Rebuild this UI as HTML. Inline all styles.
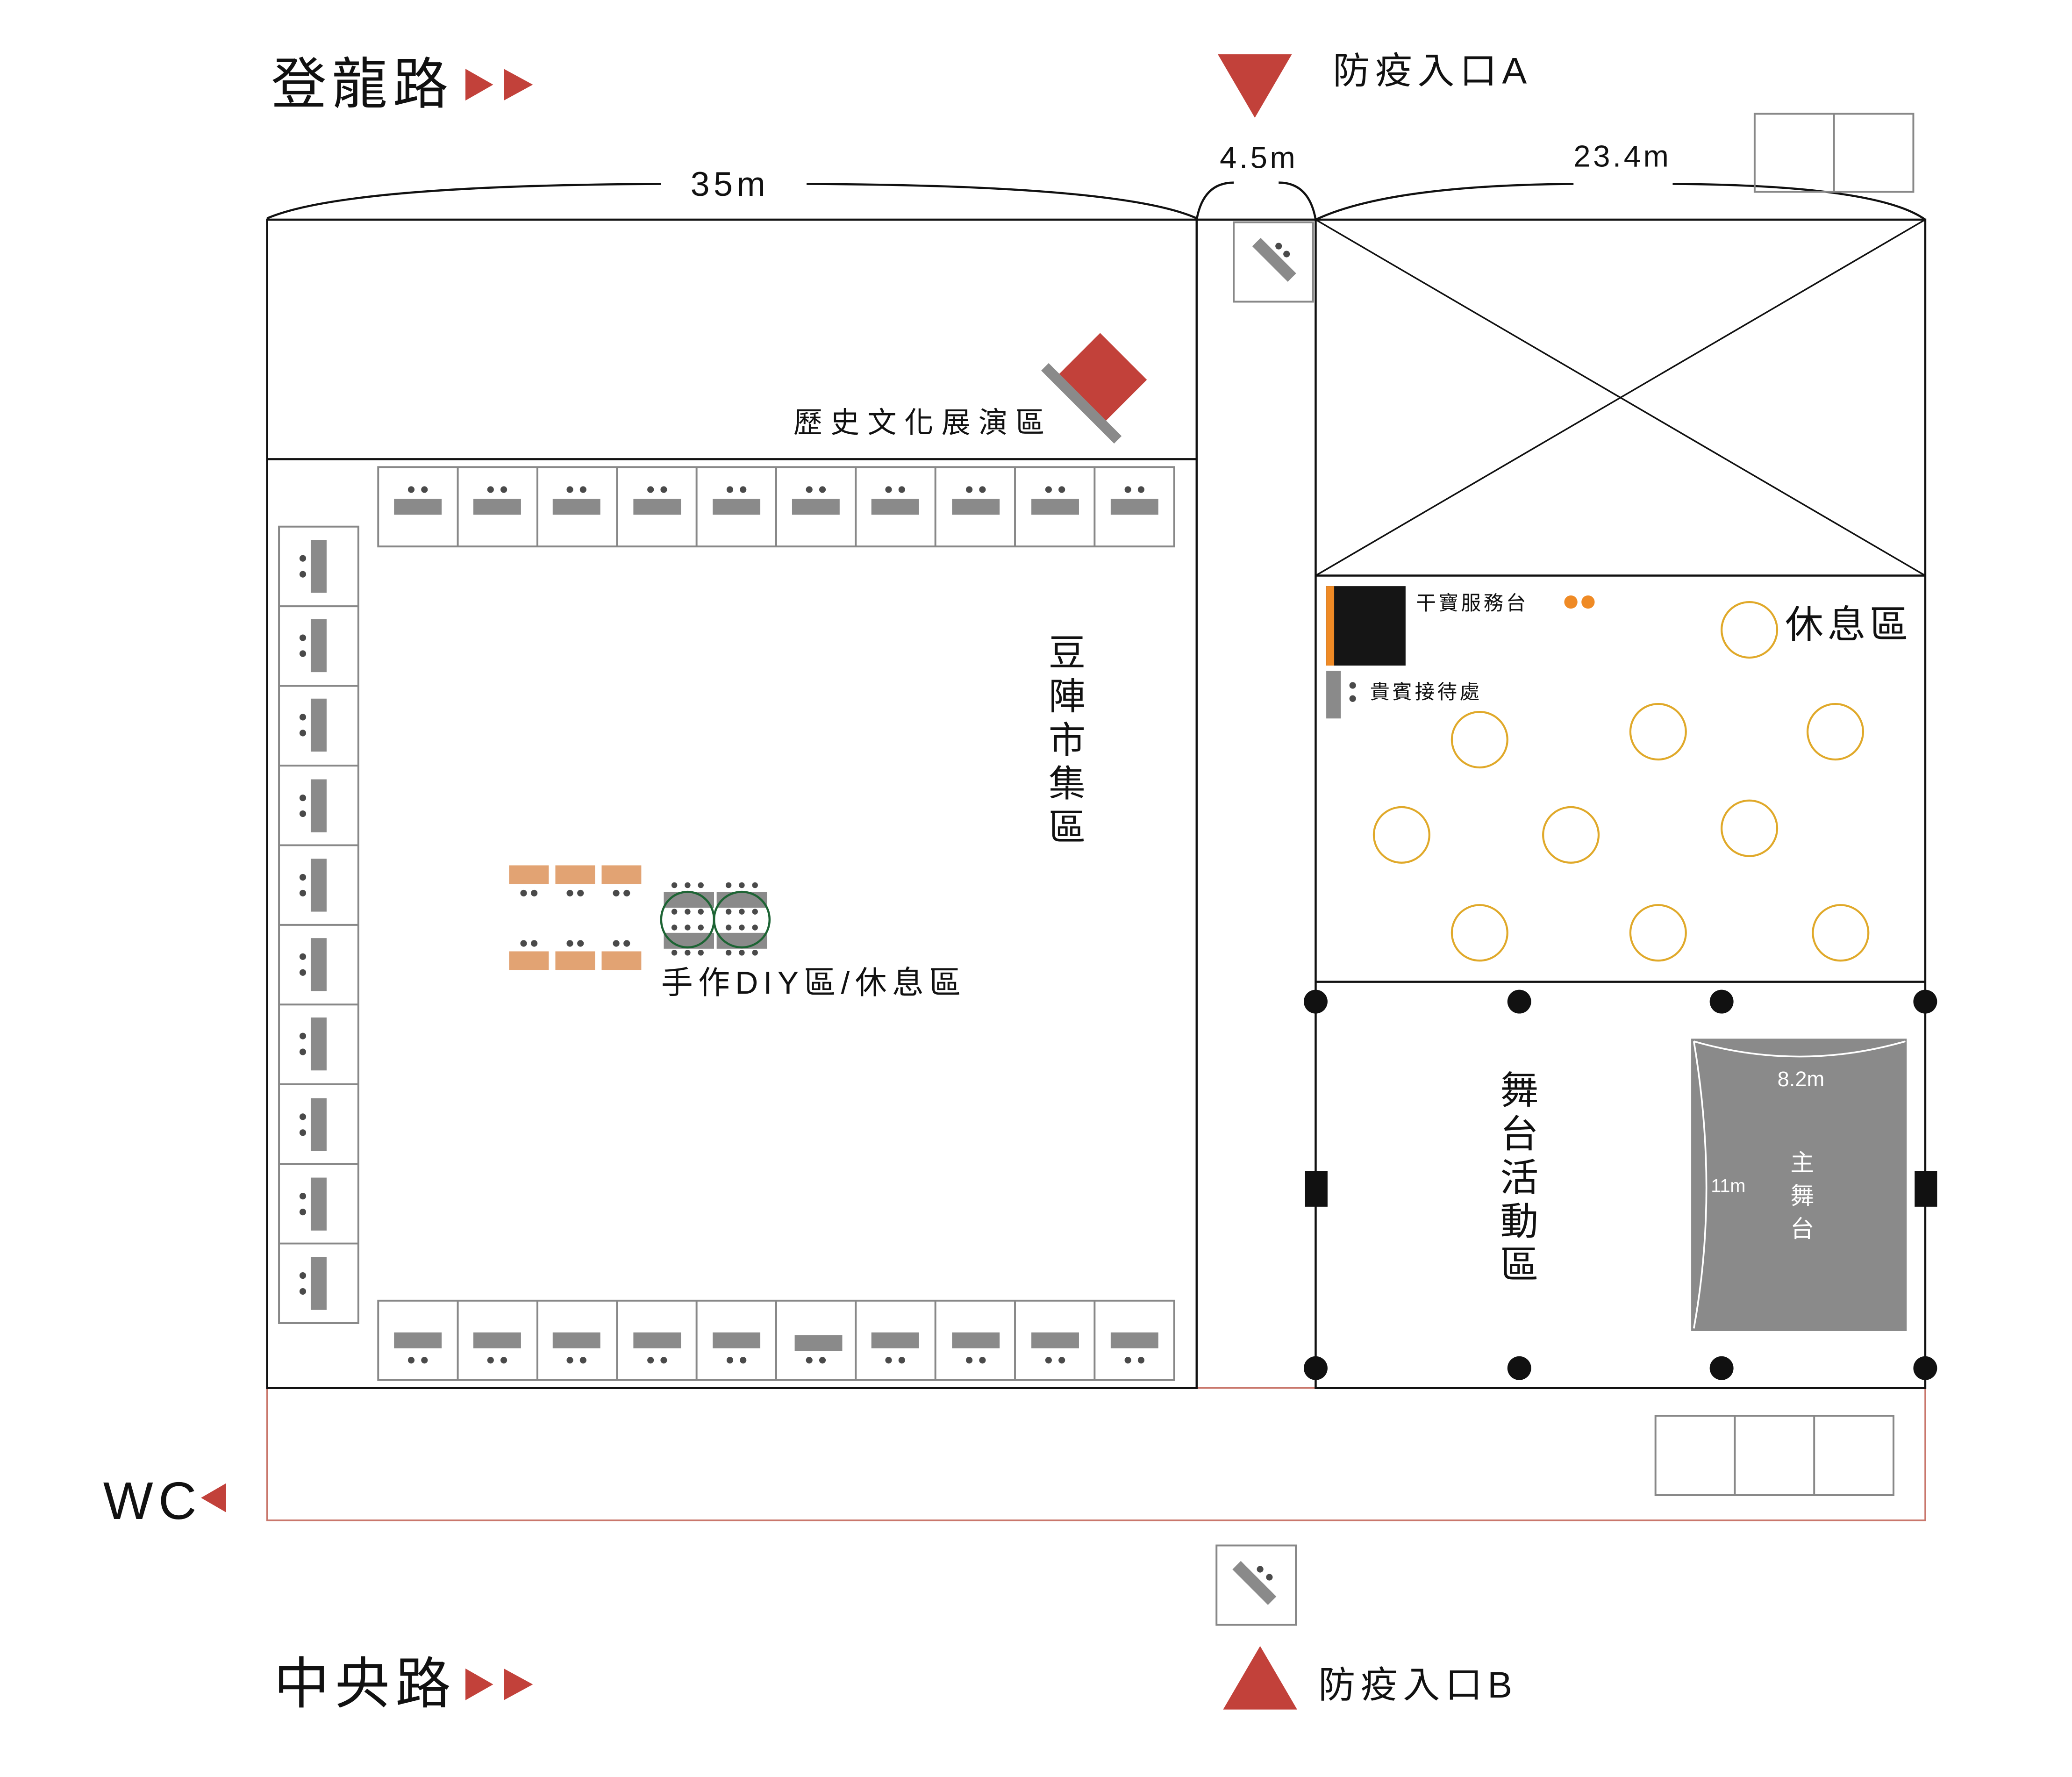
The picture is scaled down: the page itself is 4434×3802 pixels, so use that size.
<!DOCTYPE html>
<html><head><meta charset="utf-8"><style>html,body{margin:0;padding:0;background:#fff}svg{display:block}text{font-family:"Liberation Sans","Noto Sans CJK TC",sans-serif;fill:#111}</style></head><body>
<svg width="4434" height="3802" viewBox="0 0 1567 1343" preserveAspectRatio="none" xmlns="http://www.w3.org/2000/svg">
<rect width="1567" height="1343" fill="#fff"/>
<rect x="202" y="1049" width="1254" height="100" fill="none" stroke="#c9776c" stroke-width="1.2"/>
<g fill="none" stroke="#111" stroke-width="1.6">
<rect x="202" y="166" width="703" height="883"/>
<line x1="202" y1="347" x2="905" y2="347"/>
<rect x="995" y="166" width="461" height="883"/>
<line x1="905" y1="166" x2="995" y2="166"/>
<line x1="995" y1="435" x2="1456" y2="435"/>
<line x1="995" y1="742" x2="1456" y2="742"/>
<line x1="995" y1="166" x2="1456" y2="435" stroke-width="1.2"/>
<line x1="1456" y1="166" x2="995" y2="435" stroke-width="1.2"/>
<path d="M202,165 Q260,140 500,139"/><path d="M610,139 Q850,140 905,165"/>
<path d="M905,166 Q910,138 933,138"/><path d="M967,138 Q990,138 995,166"/>
<path d="M995,166 Q1050,140 1190,139"/><path d="M1265,139 Q1420,140 1456,166"/>
</g>
<text x="552" y="148" font-size="26" text-anchor="middle" letter-spacing="3">35m</text>
<text x="952" y="127" font-size="23" text-anchor="middle" letter-spacing="2">4.5m</text>
<text x="1227" y="126" font-size="23" text-anchor="middle" letter-spacing="2">23.4m</text>
<g fill="none" stroke="#888" stroke-width="1.4">
<rect x="1327" y="86" width="120" height="59"/><line x1="1387" y1="86" x2="1387" y2="145"/>
<rect x="1252" y="1070" width="180" height="60"/><line x1="1312" y1="1070" x2="1312" y2="1130"/><line x1="1372" y1="1070" x2="1372" y2="1130"/>
<rect x="933" y="168" width="60" height="60"/>
<rect x="920" y="1168" width="60" height="60"/>
</g>
<g fill="#8a8a8a"><rect x="945" y="192" width="38" height="9" transform="rotate(45 964 196)"/><rect x="930" y="1192" width="38" height="9" transform="rotate(45 949 1196)"/></g>
<g fill="#4a4a4a"><circle cx="967" cy="186" r="2.5"/><circle cx="973" cy="192" r="2.5"/><circle cx="953" cy="1186" r="2.5"/><circle cx="960" cy="1192" r="2.5"/></g>
<rect x="807" y="262" width="50" height="50" fill="#c2413a" transform="rotate(45 832 287)"/>
<rect x="780" y="298" width="78" height="8" fill="#8a8a8a" transform="rotate(45 815 302)"/>
<text x="600" y="327" font-size="22" letter-spacing="6">歷史文化展演區</text>
<g fill="none" stroke="#888" stroke-width="1.4">
<rect x="286" y="353" width="602" height="60"/><rect x="286" y="983" width="602" height="60"/><rect x="211" y="398" width="60" height="602"/>
<line x1="346.2" y1="353" x2="346.2" y2="413"/><line x1="406.4" y1="353" x2="406.4" y2="413"/><line x1="466.6" y1="353" x2="466.6" y2="413"/><line x1="526.8" y1="353" x2="526.8" y2="413"/><line x1="587" y1="353" x2="587" y2="413"/><line x1="647.2" y1="353" x2="647.2" y2="413"/><line x1="707.4" y1="353" x2="707.4" y2="413"/><line x1="767.6" y1="353" x2="767.6" y2="413"/><line x1="827.8" y1="353" x2="827.8" y2="413"/>
<line x1="346.2" y1="983" x2="346.2" y2="1043"/><line x1="406.4" y1="983" x2="406.4" y2="1043"/><line x1="466.6" y1="983" x2="466.6" y2="1043"/><line x1="526.8" y1="983" x2="526.8" y2="1043"/><line x1="587" y1="983" x2="587" y2="1043"/><line x1="647.2" y1="983" x2="647.2" y2="1043"/><line x1="707.4" y1="983" x2="707.4" y2="1043"/><line x1="767.6" y1="983" x2="767.6" y2="1043"/><line x1="827.8" y1="983" x2="827.8" y2="1043"/>
<line x1="211" y1="458.2" x2="271" y2="458.2"/><line x1="211" y1="518.4" x2="271" y2="518.4"/><line x1="211" y1="578.6" x2="271" y2="578.6"/><line x1="211" y1="638.8" x2="271" y2="638.8"/><line x1="211" y1="699" x2="271" y2="699"/><line x1="211" y1="759.2" x2="271" y2="759.2"/><line x1="211" y1="819.4" x2="271" y2="819.4"/><line x1="211" y1="879.6" x2="271" y2="879.6"/><line x1="211" y1="939.8" x2="271" y2="939.8"/>
</g>
<g fill="#8a8a8a"><rect x="298" y="377" width="36" height="12"/><rect x="358" y="377" width="36" height="12"/><rect x="418" y="377" width="36" height="12"/><rect x="479" y="377" width="36" height="12"/><rect x="539" y="377" width="36" height="12"/><rect x="599" y="377" width="36" height="12"/><rect x="659" y="377" width="36" height="12"/><rect x="720" y="377" width="36" height="12"/><rect x="780" y="377" width="36" height="12"/><rect x="840" y="377" width="36" height="12"/>
<rect x="298" y="1007" width="36" height="12"/><rect x="358" y="1007" width="36" height="12"/><rect x="418" y="1007" width="36" height="12"/><rect x="479" y="1007" width="36" height="12"/><rect x="539" y="1007" width="36" height="12"/><rect x="601" y="1009" width="36" height="12"/><rect x="659" y="1007" width="36" height="12"/><rect x="720" y="1007" width="36" height="12"/><rect x="780" y="1007" width="36" height="12"/><rect x="840" y="1007" width="36" height="12"/>
<rect x="235" y="408" width="12" height="40"/><rect x="235" y="468" width="12" height="40"/><rect x="235" y="528" width="12" height="40"/><rect x="235" y="589" width="12" height="40"/><rect x="235" y="649" width="12" height="40"/><rect x="235" y="709" width="12" height="40"/><rect x="235" y="769" width="12" height="40"/><rect x="235" y="830" width="12" height="40"/><rect x="235" y="890" width="12" height="40"/><rect x="235" y="950" width="12" height="40"/></g>
<g fill="#4a4a4a">
<circle cx="311" cy="370" r="2.5"/><circle cx="321" cy="370" r="2.5"/><circle cx="371" cy="370" r="2.5"/><circle cx="381" cy="370" r="2.5"/><circle cx="431" cy="370" r="2.5"/><circle cx="441" cy="370" r="2.5"/><circle cx="492" cy="370" r="2.5"/><circle cx="502" cy="370" r="2.5"/><circle cx="552" cy="370" r="2.5"/><circle cx="562" cy="370" r="2.5"/><circle cx="612" cy="370" r="2.5"/><circle cx="622" cy="370" r="2.5"/><circle cx="672" cy="370" r="2.5"/><circle cx="682" cy="370" r="2.5"/><circle cx="733" cy="370" r="2.5"/><circle cx="743" cy="370" r="2.5"/><circle cx="793" cy="370" r="2.5"/><circle cx="803" cy="370" r="2.5"/><circle cx="853" cy="370" r="2.5"/><circle cx="863" cy="370" r="2.5"/>
<circle cx="311" cy="1028" r="2.5"/><circle cx="321" cy="1028" r="2.5"/><circle cx="371" cy="1028" r="2.5"/><circle cx="381" cy="1028" r="2.5"/><circle cx="431" cy="1028" r="2.5"/><circle cx="441" cy="1028" r="2.5"/><circle cx="492" cy="1028" r="2.5"/><circle cx="502" cy="1028" r="2.5"/><circle cx="552" cy="1028" r="2.5"/><circle cx="562" cy="1028" r="2.5"/><circle cx="612" cy="1028" r="2.5"/><circle cx="622" cy="1028" r="2.5"/><circle cx="672" cy="1028" r="2.5"/><circle cx="682" cy="1028" r="2.5"/><circle cx="733" cy="1028" r="2.5"/><circle cx="743" cy="1028" r="2.5"/><circle cx="793" cy="1028" r="2.5"/><circle cx="803" cy="1028" r="2.5"/><circle cx="853" cy="1028" r="2.5"/><circle cx="863" cy="1028" r="2.5"/>
<circle cx="229" cy="422" r="2.5"/><circle cx="229" cy="434" r="2.5"/><circle cx="229" cy="482" r="2.5"/><circle cx="229" cy="494" r="2.5"/><circle cx="229" cy="542" r="2.5"/><circle cx="229" cy="554" r="2.5"/><circle cx="229" cy="603" r="2.5"/><circle cx="229" cy="615" r="2.5"/><circle cx="229" cy="663" r="2.5"/><circle cx="229" cy="675" r="2.5"/><circle cx="229" cy="723" r="2.5"/><circle cx="229" cy="735" r="2.5"/><circle cx="229" cy="783" r="2.5"/><circle cx="229" cy="795" r="2.5"/><circle cx="229" cy="844" r="2.5"/><circle cx="229" cy="856" r="2.5"/><circle cx="229" cy="904" r="2.5"/><circle cx="229" cy="916" r="2.5"/><circle cx="229" cy="964" r="2.5"/><circle cx="229" cy="976" r="2.5"/>
</g>
<g font-size="28" text-anchor="middle"><text x="807" y="503">豆</text><text x="807" y="536">陣</text><text x="807" y="569">市</text><text x="807" y="602">集</text><text x="807" y="635">區</text></g>
<g fill="#e2a373"><rect x="385" y="654" width="30" height="14"/><rect x="420" y="654" width="30" height="14"/><rect x="455" y="654" width="30" height="14"/><rect x="385" y="719" width="30" height="14"/><rect x="420" y="719" width="30" height="14"/><rect x="455" y="719" width="30" height="14"/></g>
<g fill="#4a4a4a"><circle cx="396" cy="675" r="2.5"/><circle cx="404" cy="675" r="2.5"/><circle cx="431" cy="675" r="2.5"/><circle cx="439" cy="675" r="2.5"/><circle cx="466" cy="675" r="2.5"/><circle cx="474" cy="675" r="2.5"/><circle cx="396" cy="713" r="2.5"/><circle cx="404" cy="713" r="2.5"/><circle cx="431" cy="713" r="2.5"/><circle cx="439" cy="713" r="2.5"/><circle cx="466" cy="713" r="2.5"/><circle cx="474" cy="713" r="2.5"/></g>
<g fill="#8a8a8a"><rect x="502" y="674" width="38" height="12"/><rect x="542" y="674" width="38" height="12"/><rect x="502" y="705" width="38" height="12"/><rect x="542" y="705" width="38" height="12"/></g>
<g fill="none" stroke="#1d6434" stroke-width="1.6"><ellipse cx="520" cy="695" rx="20" ry="21"/><ellipse cx="561" cy="695" rx="21" ry="21"/></g>
<g fill="#4a4a4a">
<circle cx="510" cy="669" r="2.2"/><circle cx="520" cy="669" r="2.2"/><circle cx="530" cy="669" r="2.2"/><circle cx="551" cy="669" r="2.2"/><circle cx="561" cy="669" r="2.2"/><circle cx="571" cy="669" r="2.2"/>
<circle cx="510" cy="689" r="2.2"/><circle cx="520" cy="689" r="2.2"/><circle cx="530" cy="689" r="2.2"/><circle cx="551" cy="689" r="2.2"/><circle cx="561" cy="689" r="2.2"/><circle cx="571" cy="689" r="2.2"/>
<circle cx="510" cy="701" r="2.2"/><circle cx="520" cy="701" r="2.2"/><circle cx="530" cy="701" r="2.2"/><circle cx="551" cy="701" r="2.2"/><circle cx="561" cy="701" r="2.2"/><circle cx="571" cy="701" r="2.2"/>
<circle cx="510" cy="720" r="2.2"/><circle cx="520" cy="720" r="2.2"/><circle cx="530" cy="720" r="2.2"/><circle cx="551" cy="720" r="2.2"/><circle cx="561" cy="720" r="2.2"/><circle cx="571" cy="720" r="2.2"/>
</g>
<text x="500" y="751" font-size="24" letter-spacing="4">手作DIY區/休息區</text>
<rect x="1003" y="443" width="60" height="60" fill="#151515"/><rect x="1003" y="443" width="6" height="60" fill="#ef8a25"/>
<text x="1071" y="461" font-size="15" letter-spacing="2">干寶服務台</text>
<circle cx="1188" cy="455" r="5" fill="#ef8a25"/><circle cx="1201" cy="455" r="5" fill="#ef8a25"/>
<rect x="1003" y="507" width="11" height="36" fill="#8a8a8a"/>
<circle cx="1023" cy="518" r="2.5" fill="#4a4a4a"/><circle cx="1023" cy="528" r="2.5" fill="#4a4a4a"/>
<text x="1036" y="528" font-size="15" letter-spacing="2">貴賓接待處</text>
<text x="1350" y="482" font-size="29" letter-spacing="3">休息區</text>
<g fill="none" stroke="#e0a92a" stroke-width="1.5">
<ellipse cx="1323" cy="476" rx="21" ry="21"/><ellipse cx="1119" cy="559" rx="21" ry="21"/><ellipse cx="1254" cy="553" rx="21" ry="21"/><ellipse cx="1388" cy="553" rx="21" ry="21"/><ellipse cx="1060" cy="631" rx="21" ry="21"/><ellipse cx="1188" cy="631" rx="21" ry="21"/><ellipse cx="1323" cy="626" rx="21" ry="21"/><ellipse cx="1119" cy="705" rx="21" ry="21"/><ellipse cx="1254" cy="705" rx="21" ry="21"/><ellipse cx="1392" cy="705" rx="21" ry="21"/>
</g>
<g fill="#111"><circle cx="995" cy="757" r="9"/><circle cx="1149" cy="757" r="9"/><circle cx="1302" cy="757" r="9"/><circle cx="1456" cy="757" r="9"/><circle cx="995" cy="1034" r="9"/><circle cx="1149" cy="1034" r="9"/><circle cx="1302" cy="1034" r="9"/><circle cx="1456" cy="1034" r="9"/><rect x="987" y="885" width="17" height="27"/><rect x="1448" y="885" width="17" height="27"/></g>
<g font-size="29" text-anchor="middle"><text x="1149" y="834">舞</text><text x="1149" y="867">台</text><text x="1149" y="900">活</text><text x="1149" y="933">動</text><text x="1149" y="966">區</text></g>
<rect x="1279" y="785" width="163" height="221" fill="#8a8a8a"/>
<g fill="none" stroke="#fff" stroke-width="1.3"><path d="M1281,787 Q1361,810 1441,787"/><path d="M1281,787 Q1300,900 1281,1004"/></g>
<g font-size="16" text-anchor="middle"><text x="1362" y="821" style="fill:#fff">8.2m</text><text x="1307" y="901" style="fill:#fff" font-size="14">11m</text><text x="1363" y="885" style="fill:#fff" font-size="18">主</text><text x="1363" y="910" style="fill:#fff" font-size="18">舞</text><text x="1363" y="935" style="fill:#fff" font-size="18">台</text></g>
<text x="205" y="78" font-size="42" letter-spacing="4">登龍路</text>
<text x="207" y="1287" font-size="42" letter-spacing="4">中央路</text>
<g fill="#c2413a">
<polygon points="352,52 373,64 352,76"/><polygon points="381,52 403,64 381,76"/>
<polygon points="352,1261 373,1273 352,1285"/><polygon points="381,1261 403,1273 381,1285"/>
<polygon points="921,41 977,41 949,89"/><polygon points="925,1292 981,1292 953,1244"/>
<polygon points="171,1121 171,1143 152,1132"/>
</g>
<text x="1008" y="63" font-size="28" letter-spacing="4">防疫入口A</text>
<text x="997" y="1283" font-size="28" letter-spacing="4">防疫入口B</text>
<text x="78" y="1148" font-size="40" letter-spacing="4">WC</text>
</svg>
</body></html>
